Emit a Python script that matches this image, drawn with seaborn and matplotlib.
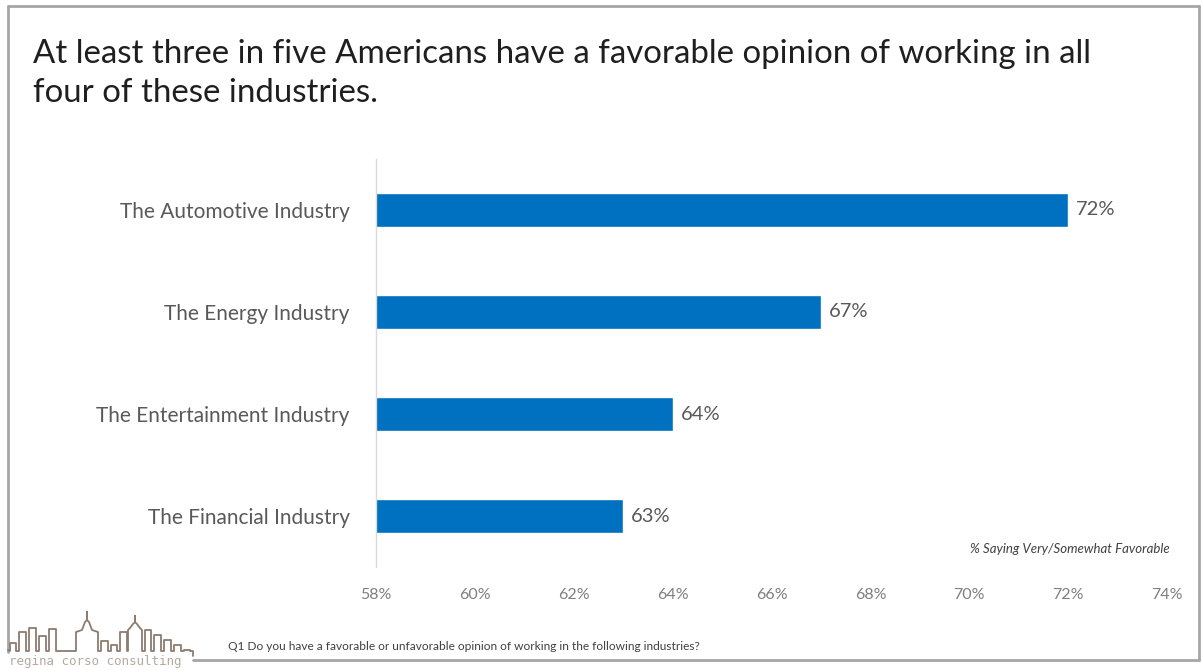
import matplotlib
matplotlib.use("Agg")
import matplotlib.pyplot as plt
import seaborn as sns
import pandas as pd
from matplotlib.lines import Line2D

industries = ["The Automotive Industry", "The Energy Industry",
              "The Entertainment Industry", "The Financial Industry"]
favorable = [72, 67, 64, 63]
x_ticks = [58, 60, 62, 64, 66, 68, 70, 72, 74]
x_tick_labels = ["58%", "60%", "62%", "64%", "66%", "68%", "70%", "72%", "74%"]

title = ("At least three in five Americans have a favorable opinion of working in all\n"
         "four of these industries.")
note = "% Saying Very/Somewhat Favorable"
footnote = "Q1 Do you have a favorable or unfavorable opinion of working in the following industries?"

sns.set_theme(style="white")
plt.rcParams['font.family'] = ['Lato', 'DejaVu Sans']

W, H = 1202, 670
fig = plt.figure(figsize=(W / 100, H / 100), dpi=100)
fig.patch.set_facecolor("white")

def fx(px):
    return px / W

def fy(py):
    return 1 - py / H

ax = fig.add_axes([fx(376), fy(567), fx(1167) - fx(376), fy(159) - fy(567)])

df = pd.DataFrame({"industry": industries, "value": favorable})
sns.barplot(data=df, x="value", y="industry", orient="h", color="#0070C0",
            saturation=1, width=0.34, ax=ax)

ax.set_xlim(58, 74)
ax.set_ylim(3.5, -0.5)
ax.set_xticks(x_ticks)
ax.set_xticklabels(x_tick_labels, fontsize=11.5, color="#7f7f7f")
ax.tick_params(axis="x", length=0, pad=15)
ax.tick_params(axis="y", length=0, pad=19, labelsize=15, labelcolor="#595959")
ax.set_xlabel("")
ax.set_ylabel("")
for s in ["top", "right", "bottom"]:
    ax.spines[s].set_visible(False)
ax.spines["left"].set_color("#d9d9d9")
ax.spines["left"].set_linewidth(1)
ax.grid(False)

for i, v in enumerate(favorable):
    ax.text(v + 0.16, i, f"{v}%", va="center", ha="left", fontsize=14.5, color="#595959")

fig.text(fx(33), fy(39), title, fontsize=23.8, color="#1f1f1f", va="top", ha="left",
         linespacing=1.38)
fig.text(fx(1170), fy(549), note, fontsize=9.5, style="italic", color="#404040",
         ha="right", va="center")
fig.text(fx(228), fy(646), footnote, fontsize=8.6, color="#404040", ha="left", va="center")

# slide border
border_color = "#a6a6a6"
fig.add_artist(Line2D([fx(8), fx(1199)], [fy(6), fy(6)], color=border_color, lw=2))
fig.add_artist(Line2D([fx(1199), fx(1199)], [fy(6), fy(660)], color=border_color, lw=2))
fig.add_artist(Line2D([fx(8), fx(8)], [fy(6), fy(652)], color=border_color, lw=2))
fig.add_artist(Line2D([fx(193), fx(1199)], [fy(660), fy(660)], color=border_color, lw=2))

# logo skyline (decorative)
buildings = [(10, 16, 643), (19, 26, 632), (29, 36, 628), (39, 46, 636), (49, 56, 629),
             ("dome", 76, 98, 632, 620, 612), (101, 108, 641), (111, 117, 645),
             (120, 127, 632), ("dome", 128, 142, 630, 622, 616), (145, 151, 630),
             (154, 161, 635), (164, 171, 640), (174, 181, 645), (184, 190, 650)]
px_, py_ = [8], [650]
base = 651
for b in buildings:
    if b[0] == "dome":
        _, x0, x1, bt, pk, sp = b
        cx = (x0 + x1) / 2
        px_ += [x0, x0, cx - 5, cx - 2, cx, cx, cx, cx + 2, cx + 5, x1, x1]
        py_ += [base, bt, bt - 2, pk + 2, pk, sp, pk, pk + 2, bt - 2, bt, base]
    else:
        x0, x1, top = b
        px_ += [x0, x0, x1, x1]
        py_ += [base, top, top, base]
px_ += [193, 193]
py_ += [base, 656]
fig.add_artist(Line2D([fx(p) for p in px_], [fy(p) for p in py_], color="#8c7b70", lw=1.3))
fig.text(fx(9), fy(668), "regina corso consulting", fontsize=9, color="#b5aaa0",
         ha="left", va="bottom", family="DejaVu Sans Mono")

fig.savefig("out.png", dpi=100, facecolor="white")
